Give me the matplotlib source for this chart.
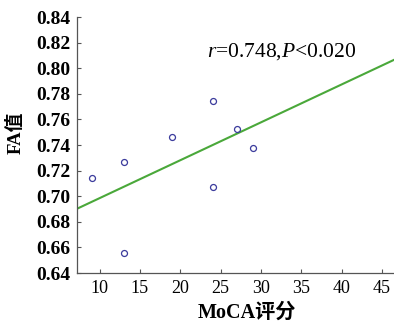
import numpy as np
import matplotlib
matplotlib.use("Agg")
import matplotlib.pyplot as plt

plt.rcParams['font.family'] = ['Liberation Serif', 'Noto Sans CJK SC']
plt.rcParams['mathtext.fontset'] = 'custom'
plt.rcParams['mathtext.rm'] = 'Liberation Serif'
plt.rcParams['mathtext.it'] = 'Liberation Serif:italic'

# 数据
moca = [9, 13, 13, 19, 24, 24, 27, 29]
fa = [0.7145, 0.727, 0.656, 0.7463, 0.7744, 0.707, 0.7525, 0.7374]
fit_x = [7.0, 47.0]
fit_y = [0.6896, 0.8080]
xticks = [10, 15, 20, 25, 30, 35, 40, 45]
yticks = [0.64, 0.66, 0.68, 0.70, 0.72, 0.74, 0.76, 0.78, 0.80, 0.82, 0.84]

fig = plt.figure(figsize=(3.94, 3.21), dpi=100)
ax = fig.add_axes([77/394, 1-273/321, 1-77/394, 256/321])

ax.plot(fit_x, fit_y, color='#4aa83a', lw=1.5)
ax.plot(moca, fa, 'o', mfc='none', mec='#3b3b9c', ms=4.3, mew=0.9)

ax.set_xlim(7.2, 46.5)
ax.set_ylim(0.64, 0.84)
ax.set_xticks(xticks)
ax.set_yticks(yticks)
ax.set_yticklabels(['%.2f' % v for v in yticks], fontsize=14, fontweight='bold')
ax.set_xticklabels([str(v) for v in xticks], fontsize=13)
ax.tick_params(direction='in', length=3, width=0.8, color='#555555', pad=5)

for s in ['top', 'right']:
    ax.spines[s].set_visible(False)
for s in ['left', 'bottom']:
    ax.spines[s].set_color('#555555')
    ax.spines[s].set_linewidth(0.9)

ax.set_xlabel('MoCA评分', fontsize=14.5, fontweight='bold')
ax.set_ylabel('FA值', fontsize=13.5, fontweight='bold')
ax.xaxis.set_label_coords(0.535, -0.115)
ax.yaxis.set_label_coords(-0.165, 0.547)

ax.text(0.41, 0.867, r'$\mathit{r}$=0.748,$\mathit{P}$<0.020', fontsize=15.5,
        transform=ax.transAxes, va='center', ha='left')

fig.savefig('out.png', dpi=100)
